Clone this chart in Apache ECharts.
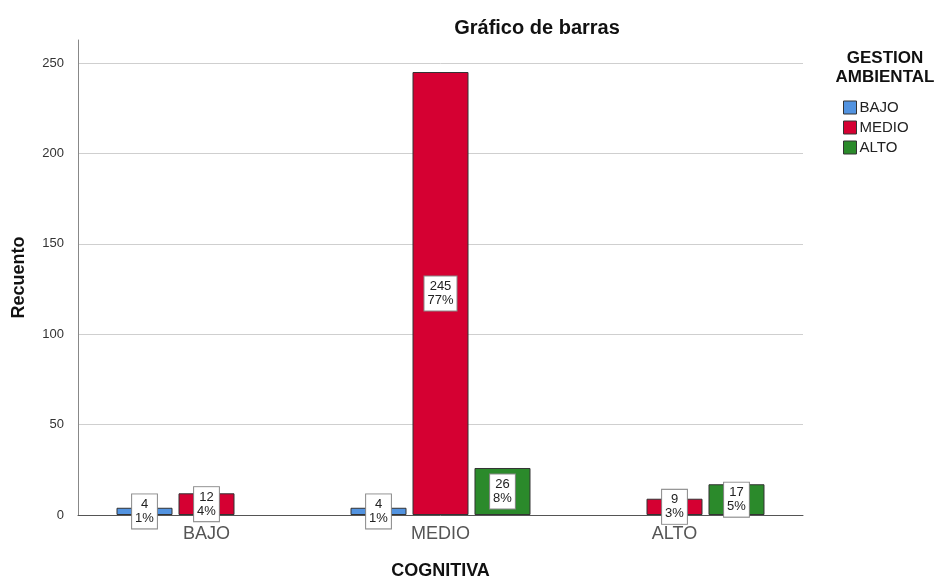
<!DOCTYPE html>
<html>
<head>
<meta charset="utf-8">
<script src="https://cdn.jsdelivr.net/npm/echarts@6/dist/echarts.min.js"></script>
<style>
  html, body { margin: 0; padding: 0; background: #fff; }
  #main { width: 934px; height: 580px; }
</style>
</head>
<body>
<div id="main"></div>
<script>
// categorias (COGNITIVA) y series (GESTION AMBIENTAL)
var categories = ['BAJO', 'MEDIO', 'ALTO'];
var seriesNames = ['BAJO', 'MEDIO', 'ALTO'];
var bajoVals = [4, 4, null];
var medioVals = [12, 245, 9];
var altoVals = [null, 26, 17];
var yTicks = [0, 50, 100, 150, 200, 250];

var colors = ['#5293e0', '#d50032', '#2b8a2b'];
var font = 'Liberation Sans, Arial, sans-serif';

var total = 0;
[bajoVals, medioVals, altoVals].forEach(function (arr) {
    arr.forEach(function (v) { if (v !== null) total += v; });
});

var myChart = echarts.init(document.getElementById('main'));

function makeSeries(name, data, color) {
    return {
        name: name,
        type: 'bar',
        xAxisIndex: 1,
        yAxisIndex: 1,
        data: data,
        barWidth: 56,
        barGap: '10.7%',
        itemStyle: { color: color, borderColor: '#333', borderWidth: 1 },
        label: {
            show: true,
            position: 'inside',
            formatter: function (p) {
                return p.value + '\n' + Math.round(p.value / total * 100) + '%';
            },
            fontFamily: font,
            fontSize: 13,
            lineHeight: 14,
            color: '#222',
            backgroundColor: '#fff',
            borderColor: '#888',
            borderWidth: 1,
            padding: [3, 3, 3, 3]
        }
    };
}

var option = {
    animation: false,
    backgroundColor: '#fff',
    title: [{
        text: 'Gráfico de barras',
        left: 532,
        top: 13,
        textAlign: 'center',
        textStyle: { fontFamily: font, fontSize: 20, fontWeight: 'bold', color: '#111' }
    }, {
        text: 'GESTION\nAMBIENTAL',
        left: 880,
        top: 44,
        textAlign: 'center',
        textStyle: { fontFamily: font, fontSize: 17, fontWeight: 'bold', color: '#111', lineHeight: 19 }
    }],
    legend: {
        data: seriesNames,
        orient: 'vertical',
        left: 838,
        top: 95,
        itemWidth: 13,
        itemHeight: 13,
        itemGap: 5,
        icon: 'rect',
        itemStyle: { borderWidth: 1 },
        textStyle: { fontFamily: font, fontSize: 15, color: '#222', lineHeight: 13, padding: [0, 0, 0, -2] }
    },
    grid: [
        { left: 78, top: 40, width: 725, height: 475, outerBoundsMode: 'none' },
        { left: 89.5, top: 40, width: 702, height: 475, outerBoundsMode: 'none' }
    ],
    xAxis: [{
        gridIndex: 0,
        type: 'category',
        data: [''],
        axisLine: { lineStyle: { color: '#555', width: 1 } },
        axisTick: { show: false },
        axisLabel: { show: false }
    }, {
        gridIndex: 1,
        type: 'category',
        data: categories,
        axisLine: { show: false },
        axisTick: { show: false },
        axisLabel: { fontFamily: font, fontSize: 18, color: '#555', margin: 10 },
        name: 'COGNITIVA',
        nameLocation: 'middle',
        nameGap: 47,
        nameTextStyle: { fontFamily: font, fontSize: 18, fontWeight: 'bold', color: '#111' }
    }],
    yAxis: [{
        gridIndex: 0,
        type: 'value',
        min: yTicks[0],
        max: 262.7,
        interval: yTicks[1] - yTicks[0],
        axisLine: { show: true, lineStyle: { color: '#888', width: 1 } },
        axisTick: { show: false },
        axisLabel: { fontFamily: font, fontSize: 13, color: '#333', margin: 14, showMaxLabel: false },
        splitLine: { show: true, showMaxLine: false, lineStyle: { color: '#cfcfcf', width: 1 } },
        name: 'Recuento',
        nameLocation: 'middle',
        nameGap: 50,
        nameTextStyle: { fontFamily: font, fontSize: 18, fontWeight: 'bold', color: '#111' }
    }, {
        gridIndex: 1,
        type: 'value',
        min: 0,
        max: 262.7,
        show: false
    }],
    series: [
        makeSeries(seriesNames[0], bajoVals, colors[0]),
        makeSeries(seriesNames[1], medioVals, colors[1]),
        makeSeries(seriesNames[2], altoVals, colors[2])
    ]
};

myChart.setOption(option);
</script>
</body>
</html>
